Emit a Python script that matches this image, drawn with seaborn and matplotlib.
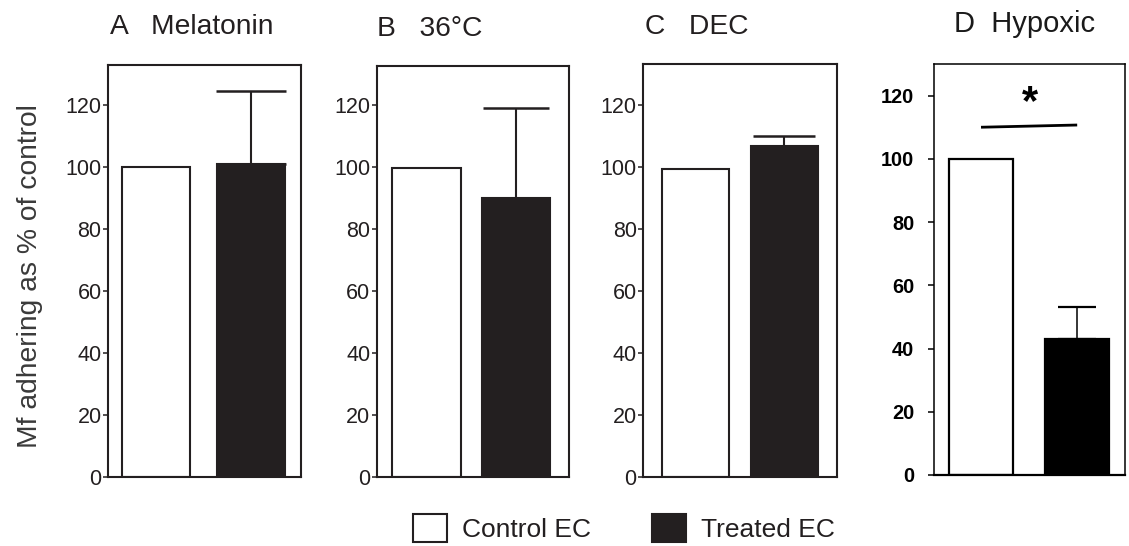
import matplotlib
matplotlib.use("Agg")
import matplotlib.pyplot as plt
import seaborn as sns
import pandas as pd
from matplotlib.patches import Patch

# ---------------- data ----------------
groups = ["Control EC", "Treated EC"]
panel_titles = ["A   Melatonin", "B   36°C", "C   DEC", "D  Hypoxic"]
control_vals = [100, 99.6, 99.5, 100]
treated_vals = [101, 90, 107, 43]
treated_err = [23.5, 28.9, 3.0, 10.0]          # upper error only
y_ticks = [0, 20, 40, 60, 80, 100, 120]
y_max = [133, 132.5, 133.5, 130]
sig_line_y = [110.0, 110.7]                     # panel D significance bar
sig_label = "*"
y_label = "Mf adhering as % of control"

# ---------------- style ----------------
sns.set_style("white")
plt.rcParams["font.family"] = ["Liberation Sans", "DejaVu Sans"]
ink = "#231f20"

W, H = 1129, 546
fig = plt.figure(figsize=(W / 100, H / 100), dpi=100)


def rect(x0, x1, y0, y1):
    return [x0 / W, 1 - y1 / H, (x1 - x0) / W, (y1 - y0) / H]


# pixel frames of the four panels
frames = [
    (108.2, 301.0, 64.8, 477.0),
    (376.8, 568.9, 66.3, 477.0),
    (643.3, 836.8, 63.6, 477.0),
    (933.5, 1124.5, 64.0, 475.0),
]
xlims = [(-0.503, 1.529), (-0.552, 1.585), (-0.585, 1.589), (-0.494, 1.492)]
bar_widths = [0.72, 0.76, 0.76, 0.67]
cap_sizes = [25.5, 23.5, 22.3, 14]
title_pos = [(110.0, 34.4), (376.8, 35.5), (645.0, 34.4), (954.4, 32.0)]

for i in range(4):
    is_d = i == 3
    dark = "black" if is_d else ink
    ax = fig.add_axes(rect(*frames[i]))
    df = pd.DataFrame({"group": groups, "value": [control_vals[i], treated_vals[i]]})
    sns.barplot(
        data=df, x="group", y="value", hue="group",
        palette={groups[0]: "white", groups[1]: dark},
        edgecolor=dark, linewidth=1.6 if is_d else 1.5,
        width=bar_widths[i], errorbar=None, legend=False, ax=ax,
        saturation=1,
    )
    xi = groups.index("Treated EC")
    ax.errorbar(
        [xi], [treated_vals[i]], yerr=[[0], [treated_err[i]]],
        fmt="none", ecolor=dark, elinewidth=1.1 if is_d else 1.5,
        capsize=cap_sizes[i], capthick=1.6 if is_d else 1.8, zorder=1,
    )
    ax.set_xlim(*xlims[i])
    ax.set_ylim(0, y_max[i])
    ax.set_yticks(y_ticks)
    ax.set_xticks([])
    ax.set_xlabel("")
    ax.set_ylabel("")
    for sp in ax.spines.values():
        sp.set_visible(True)
        sp.set_color(dark)
        sp.set_linewidth(1.1 if is_d else 1.5)
    if is_d:
        ax.spines["bottom"].set_linewidth(1.6)
        ax.tick_params(axis="y", left=True, direction="out", length=4.3, width=1.1,
                       pad=9.6, labelsize=14.4, colors="black")
        for lab in ax.get_yticklabels():
            lab.set_fontweight("bold")
        ax.plot([0, 1], sig_line_y, color="black", lw=2.0, solid_capstyle="butt")
        ax.text(0.51, 114.2, sig_label, fontsize=30, fontweight="bold",
                ha="center", va="baseline", color="black")
    else:
        ax.tick_params(axis="y", left=True, direction="out", length=3.6, width=1.1,
                       pad=1.2, labelsize=15.5, colors=ink)
    tx, ty = title_pos[i]
    fig.text(tx / W, 1 - ty / H, panel_titles[i], ha="left", va="baseline",
             fontsize=21 if is_d else 20.3, color="#1a1a1a" if is_d else ink)

fig.text(30 / W, 1 - 276 / H, y_label, rotation=90, ha="center", va="center",
         fontsize=20.3, color="#3a3a3a")

handles = [
    Patch(facecolor="white", edgecolor=ink, linewidth=1.5),
    Patch(facecolor=ink, edgecolor=ink, linewidth=1.5),
]
fig.legend(handles, groups, loc="center left", bbox_to_anchor=(412.7 / W, 1 - 528 / H),
           ncol=2, frameon=False, fontsize=19, handlelength=1.3, handleheight=1.27,
           handletextpad=0.57, columnspacing=2.3, borderpad=0, borderaxespad=0,
           labelcolor=ink)

fig.savefig("out.png", dpi=100)
